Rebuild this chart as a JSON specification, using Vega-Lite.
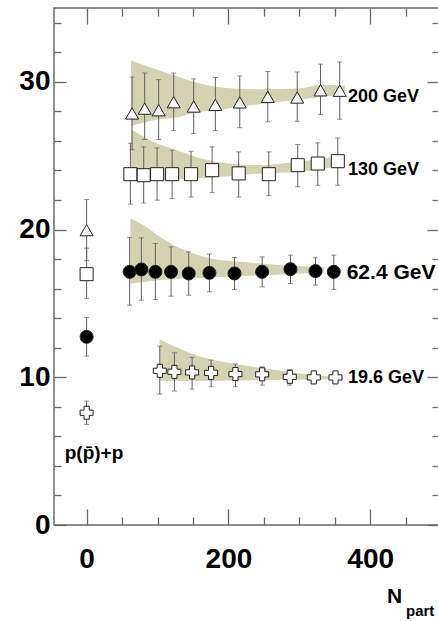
{
  "$schema": "https://vega.github.io/schema/vega-lite/v6.json",
  "width": 385,
  "height": 517,
  "autosize": {"type": "none"},
  "padding": {"left": 54, "top": 8, "right": 0, "bottom": 96},
  "background": "white",
  "config": {
    "view": {"stroke": "dimgray", "strokeWidth": 1.5},
    "axis": {"grid": false, "domainColor": "dimgray", "domainWidth": 1.5, "tickColor": "dimgray", "tickWidth": 1.3, "labelFont": "Liberation Sans", "labelFontWeight": "bold", "labelFontSize": 28, "labelColor": "black"}
  },
  "data": {"values": [
    {"g": "p", "e": "200", "x": 64.1, "y": 27.86, "lo": 25.4, "hi": 30.33},
    {"g": "p", "e": "200", "x": 81.9, "y": 28.19, "lo": 26.1, "hi": 30.6},
    {"g": "p", "e": "200", "x": 101.6, "y": 28.08, "lo": 26.1, "hi": 30.15},
    {"g": "p", "e": "200", "x": 122.8, "y": 28.62, "lo": 26.7, "hi": 30.6},
    {"g": "p", "e": "200", "x": 151.0, "y": 28.33, "lo": 26.5, "hi": 30.2},
    {"g": "p", "e": "200", "x": 181.6, "y": 28.44, "lo": 26.7, "hi": 30.3},
    {"g": "p", "e": "200", "x": 216.0, "y": 28.61, "lo": 26.9, "hi": 30.4},
    {"g": "p", "e": "200", "x": 255.5, "y": 28.98, "lo": 27.3, "hi": 30.7},
    {"g": "p", "e": "200", "x": 297.0, "y": 28.94, "lo": 27.33, "hi": 30.67},
    {"g": "p", "e": "200", "x": 329.9, "y": 29.43, "lo": 27.8, "hi": 31.2},
    {"g": "p", "e": "200", "x": 357.0, "y": 29.4, "lo": 27.47, "hi": 31.35},
    {"g": "p", "e": "130", "x": 61.7, "y": 23.75, "lo": 21.72, "hi": 25.85},
    {"g": "p", "e": "130", "x": 80.5, "y": 23.68, "lo": 21.8, "hi": 25.6},
    {"g": "p", "e": "130", "x": 99.4, "y": 23.75, "lo": 21.99, "hi": 25.53},
    {"g": "p", "e": "130", "x": 120.6, "y": 23.75, "lo": 22.1, "hi": 25.37},
    {"g": "p", "e": "130", "x": 147.3, "y": 23.75, "lo": 22.2, "hi": 25.3},
    {"g": "p", "e": "130", "x": 177.0, "y": 24.02, "lo": 22.5, "hi": 25.6},
    {"g": "p", "e": "130", "x": 214.5, "y": 23.8, "lo": 22.2, "hi": 25.26},
    {"g": "p", "e": "130", "x": 257.0, "y": 23.75, "lo": 22.3, "hi": 25.26},
    {"g": "p", "e": "130", "x": 297.8, "y": 24.36, "lo": 22.9, "hi": 25.76},
    {"g": "p", "e": "130", "x": 326.0, "y": 24.47, "lo": 23.0, "hi": 25.87},
    {"g": "p", "e": "130", "x": 354.3, "y": 24.63, "lo": 23.0, "hi": 26.2},
    {"g": "p", "e": "62.4", "x": 60.7, "y": 17.14, "lo": 14.88, "hi": 19.47},
    {"g": "p", "e": "62.4", "x": 77.2, "y": 17.3, "lo": 15.22, "hi": 19.44},
    {"g": "p", "e": "62.4", "x": 97.0, "y": 17.14, "lo": 15.27, "hi": 19.06},
    {"g": "p", "e": "62.4", "x": 119.1, "y": 17.14, "lo": 15.49, "hi": 18.83},
    {"g": "p", "e": "62.4", "x": 144.0, "y": 17.03, "lo": 15.56, "hi": 18.49},
    {"g": "p", "e": "62.4", "x": 173.2, "y": 17.07, "lo": 15.79, "hi": 18.34},
    {"g": "p", "e": "62.4", "x": 208.6, "y": 17.03, "lo": 15.95, "hi": 18.11},
    {"g": "p", "e": "62.4", "x": 247.6, "y": 17.14, "lo": 16.12, "hi": 18.15},
    {"g": "p", "e": "62.4", "x": 287.5, "y": 17.32, "lo": 16.35, "hi": 18.27},
    {"g": "p", "e": "62.4", "x": 322.8, "y": 17.19, "lo": 16.24, "hi": 18.09},
    {"g": "p", "e": "62.4", "x": 348.6, "y": 17.14, "lo": 15.95, "hi": 18.27},
    {"g": "p", "e": "19.6", "x": 103.2, "y": 10.44, "lo": 8.86, "hi": 12.11},
    {"g": "p", "e": "19.6", "x": 123.8, "y": 10.37, "lo": 9.07, "hi": 11.66},
    {"g": "p", "e": "19.6", "x": 148.8, "y": 10.33, "lo": 9.2, "hi": 11.35},
    {"g": "p", "e": "19.6", "x": 175.6, "y": 10.3, "lo": 9.36, "hi": 11.16},
    {"g": "p", "e": "19.6", "x": 209.9, "y": 10.22, "lo": 9.36, "hi": 10.9},
    {"g": "p", "e": "19.6", "x": 247.6, "y": 10.2, "lo": 9.47, "hi": 10.71},
    {"g": "p", "e": "19.6", "x": 286.5, "y": 10.03, "lo": 9.47, "hi": 10.53},
    {"g": "p", "e": "19.6", "x": 320.4, "y": 9.99, "lo": 9.59, "hi": 10.42},
    {"g": "p", "e": "19.6", "x": 351.0, "y": 9.99, "lo": 9.7, "hi": 10.3},
    {"g": "p", "e": "200", "x": 0, "y": 19.96, "lo": 17.9, "hi": 22.04},
    {"g": "p", "e": "130", "x": 0, "y": 16.98, "lo": 15.34, "hi": 18.74},
    {"g": "p", "e": "62.4", "x": 0, "y": 12.74, "lo": 11.43, "hi": 14.05},
    {"g": "p", "e": "19.6", "x": 0, "y": 7.6, "lo": 6.81, "hi": 8.39},
    {"g": "b", "e": "200", "x": 62.6, "lo": 27.0, "hi": 31.46},
    {"g": "b", "e": "200", "x": 94.6, "lo": 27.4, "hi": 30.9},
    {"g": "b", "e": "200", "x": 127.6, "lo": 27.6, "hi": 30.38},
    {"g": "b", "e": "200", "x": 151.0, "lo": 27.9, "hi": 30.0},
    {"g": "b", "e": "200", "x": 184.0, "lo": 28.1, "hi": 29.66},
    {"g": "b", "e": "200", "x": 245.0, "lo": 28.5, "hi": 29.5},
    {"g": "b", "e": "200", "x": 300.0, "lo": 28.8, "hi": 29.55},
    {"g": "b", "e": "200", "x": 330.0, "lo": 29.0, "hi": 29.8},
    {"g": "b", "e": "200", "x": 364.0, "lo": 29.1, "hi": 29.75},
    {"g": "b", "e": "130", "x": 62.6, "lo": 23.3, "hi": 26.8},
    {"g": "b", "e": "130", "x": 94.6, "lo": 23.35, "hi": 25.93},
    {"g": "b", "e": "130", "x": 127.6, "lo": 23.4, "hi": 25.37},
    {"g": "b", "e": "130", "x": 151.0, "lo": 23.45, "hi": 24.97},
    {"g": "b", "e": "130", "x": 184.0, "lo": 23.55, "hi": 24.58},
    {"g": "b", "e": "130", "x": 245.0, "lo": 23.8, "hi": 24.36},
    {"g": "b", "e": "130", "x": 300.0, "lo": 23.9, "hi": 24.6},
    {"g": "b", "e": "130", "x": 330.0, "lo": 24.1, "hi": 24.8},
    {"g": "b", "e": "130", "x": 360.0, "lo": 24.3, "hi": 24.95},
    {"g": "b", "e": "62.4", "x": 61.7, "lo": 16.35, "hi": 20.75},
    {"g": "b", "e": "62.4", "x": 80.5, "lo": 16.45, "hi": 20.3},
    {"g": "b", "e": "62.4", "x": 104.0, "lo": 16.58, "hi": 19.5},
    {"g": "b", "e": "62.4", "x": 127.6, "lo": 16.65, "hi": 18.83},
    {"g": "b", "e": "62.4", "x": 151.0, "lo": 16.7, "hi": 18.38},
    {"g": "b", "e": "62.4", "x": 174.6, "lo": 16.76, "hi": 18.04},
    {"g": "b", "e": "62.4", "x": 221.6, "lo": 16.85, "hi": 17.8},
    {"g": "b", "e": "62.4", "x": 245.0, "lo": 16.9, "hi": 17.7},
    {"g": "b", "e": "62.4", "x": 290.0, "lo": 17.0, "hi": 17.55},
    {"g": "b", "e": "62.4", "x": 335.0, "lo": 17.1, "hi": 17.45},
    {"g": "b", "e": "19.6", "x": 103.0, "lo": 9.76, "hi": 12.56},
    {"g": "b", "e": "19.6", "x": 122.8, "lo": 9.76, "hi": 12.11},
    {"g": "b", "e": "19.6", "x": 146.4, "lo": 9.76, "hi": 11.62},
    {"g": "b", "e": "19.6", "x": 169.9, "lo": 9.76, "hi": 11.28},
    {"g": "b", "e": "19.6", "x": 207.5, "lo": 9.78, "hi": 10.94},
    {"g": "b", "e": "19.6", "x": 245.2, "lo": 9.81, "hi": 10.64},
    {"g": "b", "e": "19.6", "x": 282.8, "lo": 9.83, "hi": 10.37},
    {"g": "b", "e": "19.6", "x": 320.4, "lo": 9.85, "hi": 10.15},
    {"g": "b", "e": "19.6", "x": 344.0, "lo": 9.87, "hi": 10.05},
    {"g": "l", "kind": "e18", "t": "200 GeV", "x": 368.7, "y": 29.0},
    {"g": "l", "kind": "e18", "t": "130 GeV", "x": 368.7, "y": 24.05},
    {"g": "l", "kind": "e21", "t": "62.4 GeV", "x": 366.8, "y": 17.05},
    {"g": "l", "kind": "e18", "t": "19.6 GeV", "x": 368.7, "y": 9.95},
    {"g": "l", "kind": "pp", "t": "p(p\u0304)+p", "x": 10.4, "y": 4.87},
    {"g": "l", "kind": "N", "t": "N", "x": 434.2, "y": -5.28},
    {"g": "l", "kind": "sub", "t": "part", "x": 450.5, "y": -6.16}
  ]},
  "resolve": {"axis": {"x": "independent", "y": "independent"}},
  "layer": [
    {
      "transform": [{"filter": "datum.g === 'b'"}],
      "mark": {"type": "area", "color": "#d5d1b3", "interpolate": "monotone"},
      "encoding": {
        "x": {"field": "x", "type": "quantitative", "scale": {"domain": [-46, 497], "nice": false, "zero": false},
              "axis": {"orient": "bottom", "values": [0, 200, 400], "offset": -16, "tickSize": 16, "domain": false, "labelPadding": 20, "title": null}},
        "y": {"field": "lo", "type": "quantitative", "scale": {"domain": [0, 35], "nice": false, "zero": false},
              "axis": {"orient": "left", "values": [0, 10, 20, 30], "offset": -12, "tickSize": 12, "domain": false, "labelPadding": 4, "title": null}},
        "y2": {"field": "hi"},
        "detail": {"field": "e"}
      }
    },
    {
      "transform": [{"filter": "datum.g === 'p'"}],
      "mark": {"type": "rule", "color": "#606060", "strokeWidth": 1},
      "encoding": {
        "x": {"field": "x", "type": "quantitative", "scale": {"domain": [-46, 497], "nice": false, "zero": false},
              "axis": {"orient": "top", "values": [0, 200, 400], "offset": -16, "tickSize": 16, "domain": false, "labels": false, "title": null}},
        "y": {"field": "lo", "type": "quantitative", "scale": {"domain": [0, 35], "nice": false, "zero": false},
              "axis": {"orient": "right", "values": [0, 10, 20, 30], "offset": -12, "tickSize": 12, "domain": false, "labels": false, "title": null}},
        "y2": {"field": "hi"}
      }
    },
    {
      "transform": [{"filter": "datum.g === 'p'"}],
      "mark": {"type": "tick", "orient": "horizontal", "size": 5, "thickness": 1, "color": "#606060"},
      "encoding": {
        "x": {"field": "x", "type": "quantitative", "scale": {"domain": [-46, 497], "nice": false, "zero": false},
              "axis": {"orient": "bottom", "values": [50, 100, 150, 250, 300, 350, 450], "offset": -8, "tickSize": 8, "domain": false, "labels": false, "title": null}},
        "y": {"field": "lo", "type": "quantitative", "scale": {"domain": [0, 35], "nice": false, "zero": false},
              "axis": {"orient": "left", "values": [2, 4, 6, 8, 12, 14, 16, 18, 22, 24, 26, 28, 32, 34], "offset": -7, "tickSize": 7, "domain": false, "labels": false, "title": null}}
      }
    },
    {
      "transform": [{"filter": "datum.g === 'p'"}],
      "mark": {"type": "tick", "orient": "horizontal", "size": 5, "thickness": 1, "color": "#606060"},
      "encoding": {
        "x": {"field": "x", "type": "quantitative", "scale": {"domain": [-46, 497], "nice": false, "zero": false},
              "axis": {"orient": "top", "values": [50, 100, 150, 250, 300, 350, 450], "offset": -8, "tickSize": 8, "domain": false, "labels": false, "title": null}},
        "y": {"field": "hi", "type": "quantitative", "scale": {"domain": [0, 35], "nice": false, "zero": false},
              "axis": {"orient": "right", "values": [2, 4, 6, 8, 12, 14, 16, 18, 22, 24, 26, 28, 32, 34], "offset": -7, "tickSize": 7, "domain": false, "labels": false, "title": null}}
      }
    },
    {
      "transform": [{"filter": "datum.g === 'p'"}],
      "mark": {"type": "point", "filled": true, "stroke": "#222222", "strokeWidth": 1, "size": 170, "opacity": 1},
      "encoding": {
        "x": {"field": "x", "type": "quantitative", "scale": {"domain": [-46, 497], "nice": false, "zero": false}, "axis": null},
        "y": {"field": "y", "type": "quantitative", "scale": {"domain": [0, 35], "nice": false, "zero": false}, "axis": null},
        "shape": {"field": "e", "type": "nominal", "scale": {"domain": ["200", "130", "62.4", "19.6"], "range": ["triangle-up", "square", "circle", "cross"]}, "legend": null},
        "fill": {"field": "e", "type": "nominal", "scale": {"domain": ["200", "130", "62.4", "19.6"], "range": ["white", "white", "black", "white"]}, "legend": null}
      }
    },
    {
      "transform": [{"filter": "datum.kind === 'e18'"}],
      "mark": {"type": "text", "font": "Liberation Sans", "fontWeight": "bold", "fontSize": 18, "align": "left", "baseline": "middle", "color": "black"},
      "encoding": {
        "x": {"field": "x", "type": "quantitative", "scale": {"domain": [-46, 497], "nice": false, "zero": false}, "axis": null},
        "y": {"field": "y", "type": "quantitative", "scale": {"domain": [0, 35], "nice": false, "zero": false}, "axis": null},
        "text": {"field": "t"}
      }
    },
    {
      "transform": [{"filter": "datum.kind === 'e21'"}],
      "mark": {"type": "text", "font": "Liberation Sans", "fontWeight": "bold", "fontSize": 21, "align": "left", "baseline": "middle", "color": "black"},
      "encoding": {
        "x": {"field": "x", "type": "quantitative", "scale": {"domain": [-46, 497], "nice": false, "zero": false}, "axis": null},
        "y": {"field": "y", "type": "quantitative", "scale": {"domain": [0, 35], "nice": false, "zero": false}, "axis": null},
        "text": {"field": "t"}
      }
    },
    {
      "transform": [{"filter": "datum.kind === 'pp'"}],
      "mark": {"type": "text", "font": "Liberation Sans", "fontWeight": "bold", "fontSize": 19, "align": "center", "baseline": "middle", "color": "black"},
      "encoding": {
        "x": {"field": "x", "type": "quantitative", "scale": {"domain": [-46, 497], "nice": false, "zero": false}, "axis": null},
        "y": {"field": "y", "type": "quantitative", "scale": {"domain": [0, 35], "nice": false, "zero": false}, "axis": null},
        "text": {"field": "t"}
      }
    },
    {
      "transform": [{"filter": "datum.kind === 'N'"}],
      "mark": {"type": "text", "font": "Liberation Sans", "fontWeight": "bold", "fontSize": 21, "align": "center", "baseline": "alphabetic", "color": "black"},
      "encoding": {
        "x": {"field": "x", "type": "quantitative", "scale": {"domain": [-46, 497], "nice": false, "zero": false}, "axis": null},
        "y": {"field": "y", "type": "quantitative", "scale": {"domain": [0, 35], "nice": false, "zero": false}, "axis": null},
        "text": {"field": "t"}
      }
    },
    {
      "transform": [{"filter": "datum.kind === 'sub'"}],
      "mark": {"type": "text", "font": "Liberation Sans", "fontWeight": "bold", "fontSize": 15, "align": "left", "baseline": "alphabetic", "color": "black"},
      "encoding": {
        "x": {"field": "x", "type": "quantitative", "scale": {"domain": [-46, 497], "nice": false, "zero": false}, "axis": null},
        "y": {"field": "y", "type": "quantitative", "scale": {"domain": [0, 35], "nice": false, "zero": false}, "axis": null},
        "text": {"field": "t"}
      }
    }
  ]
}
